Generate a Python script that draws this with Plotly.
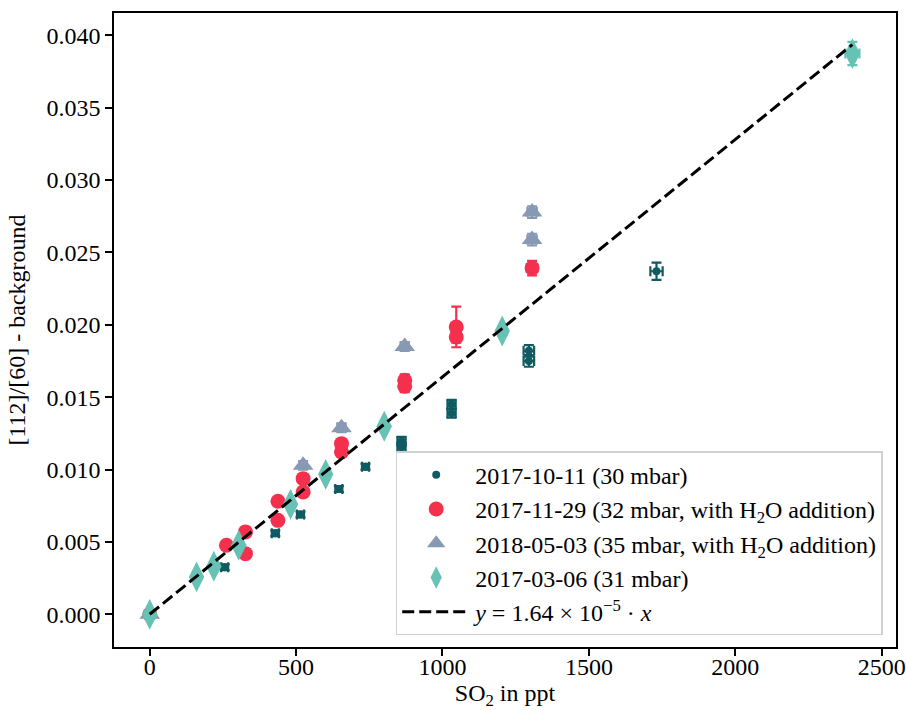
import plotly.graph_objects as go

# ---- data ----
d1_x = [0, 256, 429, 515, 646, 737, 860, 860, 1031, 1031, 1295, 1295, 1731]
d1_y = [0.0, 0.00325, 0.0056, 0.0069, 0.00865, 0.0102, 0.01195, 0.01154, 0.01451, 0.01389, 0.0182, 0.0175, 0.0237]
d1_xerr = [10, 12, 12, 12, 12, 12, 14, 14, 14, 14, 18, 18, 21]
d1_yerr = [0.0002, 0.0002, 0.0002, 0.0002, 0.0002, 0.0002, 0.0003, 0.0003, 0.0003, 0.0003, 0.0004, 0.0004, 0.0006]

d2_x = [0, 262, 327, 327, 438, 438, 524, 524, 655, 655, 871, 871, 1047, 1047, 1306]
d2_y = [0.0, 0.00477, 0.00569, 0.00419, 0.00781, 0.00649, 0.00937, 0.00845, 0.01179, 0.01121, 0.01617, 0.01575, 0.01985, 0.01916, 0.02392]
d2_xerr = [10, 12, 12, 12, 12, 12, 12, 12, 14, 14, 14, 14, 16, 16, 18]
d2_yerr = [0.0002, 0.0002, 0.0002, 0.0002, 0.0002, 0.0002, 0.0002, 0.0002, 0.0003, 0.0003, 0.0004, 0.0004, 0.0014, 0.0004, 0.0005]

d3_x = [0, 524, 655, 871, 1306, 1306]
d3_y = [0.0, 0.01029, 0.01289, 0.01850, 0.02589, 0.02779]
d3_xerr = [10, 12, 14, 14, 16, 16]
d3_yerr = [0.0002, 0.0003, 0.0003, 0.0003, 0.0004, 0.0004]

d4_x = [0, 160, 219, 304, 481, 601, 801, 1204, 2400]
d4_y = [0.0, 0.00258, 0.00332, 0.00477, 0.0076, 0.00967, 0.01299, 0.01957, 0.03874]
d4_xerr = [8, 8, 8, 8, 10, 10, 12, 14, 24]
d4_yerr = [0.0002, 0.0002, 0.0002, 0.0002, 0.0002, 0.0002, 0.0003, 0.0003, 0.0008]

fit_slope = 1.64e-5
fit_x = [0, 2400]

labels = [
    "2017-10-11 (30 mbar)",
    "2017-11-29 (32 mbar, with H<sub>2</sub>O addition)",
    "2018-05-03 (35 mbar, with H<sub>2</sub>O addition)",
    "2017-03-06 (31 mbar)",
    "<i>y</i> = 1.64 × 10<sup>−5</sup> · <i>x</i>",
]
colors = ["#0f5b61", "#f5304d", "#8799b3", "#65c2b4"]

FONT = "Liberation Serif"
FS = 24

fig = go.Figure()

series = [
    (d1_x, d1_y, d1_xerr, d1_yerr, "circle", 8),
    (d2_x, d2_y, d2_xerr, d2_yerr, "circle", 15),
    (d3_x, d3_y, d3_xerr, d3_yerr, "triangle-up", 18),
    (d4_x, d4_y, d4_xerr, d4_yerr, "diamond-tall", 22),
]
for i, (x, y, xe, ye, sym, sz) in enumerate(series):
    fig.add_trace(go.Scatter(
        x=x, y=y, mode="markers", name=labels[i],
        marker=dict(symbol=sym, size=sz, color=colors[i], line=dict(width=0)),
        error_x=dict(type="data", array=xe, visible=True, color=colors[i], thickness=2.2, width=5),
        error_y=dict(type="data", array=ye, visible=True, color=colors[i], thickness=2.2, width=5),
    ))

fig.add_trace(go.Scatter(
    x=fit_x, y=[fit_slope * v for v in fit_x], mode="lines", name=labels[4],
    line=dict(color="black", width=3, dash="12px,5px"),
))

axis_common = dict(
    showgrid=False, zeroline=False, showline=True, linecolor="black", linewidth=1.5,
    mirror=True, ticks="outside", ticklen=7, tickwidth=1.5, tickcolor="black",
    tickfont=dict(family=FONT, size=FS, color="black"), automargin=False,
)

fig.update_layout(
    width=906, height=710,
    margin=dict(l=114, r=10, t=13, b=63),
    paper_bgcolor="white", plot_bgcolor="white",
    font=dict(family=FONT, size=FS, color="black"),
    showlegend=True,
    legend=dict(
        x=0.983, y=0.0185, xanchor="right", yanchor="bottom",
        bgcolor="rgba(255,255,255,0.8)", bordercolor="#d0d0d0", borderwidth=1.5,
        font=dict(family=FONT, size=24, color="black"),
        itemwidth=68,
    ),
    xaxis=dict(
        range=[-122, 2549], tickvals=[0, 500, 1000, 1500, 2000, 2500],
        ticklabelstandoff=-10,
        title=dict(text="SO<sub>2</sub> in ppt", font=dict(family=FONT, size=FS), standoff=6),
        **axis_common,
    ),
    yaxis=dict(
        range=[-0.00226, 0.04154],
        tickvals=[0, 0.005, 0.01, 0.015, 0.02, 0.025, 0.03, 0.035, 0.04],
        tickformat=".3f",
        title=dict(text="[112]/[60] - background", font=dict(family=FONT, size=FS), standoff=14),
        **axis_common,
    ),
)

fig.write_html("out.html")
